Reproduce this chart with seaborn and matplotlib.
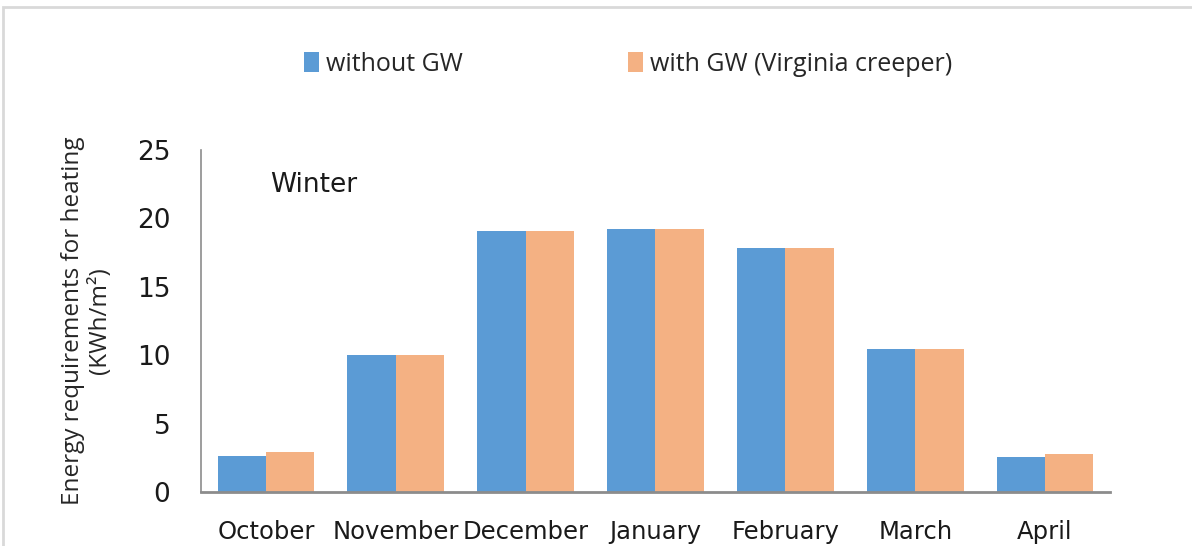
import matplotlib
matplotlib.use("Agg")
from matplotlib import pyplot as plt
from matplotlib.patches import Rectangle
import seaborn as sns
import pandas as pd

months = ["October", "November", "December", "January", "February", "March", "April"]
without_gw = [2.65, 10.0, 19.1, 19.25, 17.85, 10.45, 2.55]
with_gw = [2.95, 10.0, 19.1, 19.25, 17.85, 10.45, 2.75]
series = ["without GW", "with GW (Virginia creeper)"]
colors = ["#5B9BD5", "#F4B183"]

df = pd.DataFrame({
    "Month": months * 2,
    "Energy": without_gw + with_gw,
    "Case": [series[0]] * len(months) + [series[1]] * len(months),
})

sns.set_style("white")
plt.rcParams["font.family"] = ["DejaVu Sans"]

fig = plt.figure(figsize=(11.92, 5.46), dpi=100)
ax = fig.add_axes([0.1686, 0.0989, 0.7626, 0.6264])

sns.barplot(data=df, x="Month", y="Energy", hue="Case", order=months,
            hue_order=series, palette=colors, width=0.745, gap=0,
            linewidth=0, saturation=1, ax=ax, legend=True)

ax.set_ylim(0, 25)
ax.set_yticks([0, 5, 10, 15, 20, 25])
ax.set_xlim(-0.5, len(months) - 0.5)
ax.tick_params(axis="y", length=0, pad=22, labelsize=19, labelcolor="#1a1a1a")
ax.tick_params(axis="x", length=0, pad=20, labelsize=17.5, labelcolor="#1a1a1a")
ax.set_xlabel("")
ax.set_ylabel("Energy requirements for heating\n(KWh/m²)", fontsize=17.5,
              family=["Open Sans", "DejaVu Sans"], labelpad=18, linespacing=1.15)

for side in ["top", "right"]:
    ax.spines[side].set_visible(False)
ax.spines["left"].set_color("#8c8c8c")
ax.spines["left"].set_linewidth(1.2)
ax.spines["bottom"].set_color("#8c8c8c")
ax.spines["bottom"].set_linewidth(2)

ax.text(0.076, 0.898, "Winter", transform=ax.transAxes, fontsize=19,
        va="center", ha="left", color="#1a1a1a")

handles, labels = ax.get_legend_handles_labels()
ax.get_legend().remove()
fig.legend(handles, labels, loc="center", bbox_to_anchor=(0.527, 0.882), ncol=2,
           frameon=False, handlelength=0.6, handleheight=0.85, handletextpad=0.3,
           columnspacing=6.6, prop={"family": ["Open Sans", "DejaVu Sans"], "size": 18})

fig.patches.append(Rectangle((3 / 1192, -0.1), 1.2, 1 - 7 / 546 + 0.1,
                             transform=fig.transFigure, fill=False,
                             edgecolor="#d9d9d9", linewidth=2))

fig.savefig("out.png", dpi=100, facecolor="white")
